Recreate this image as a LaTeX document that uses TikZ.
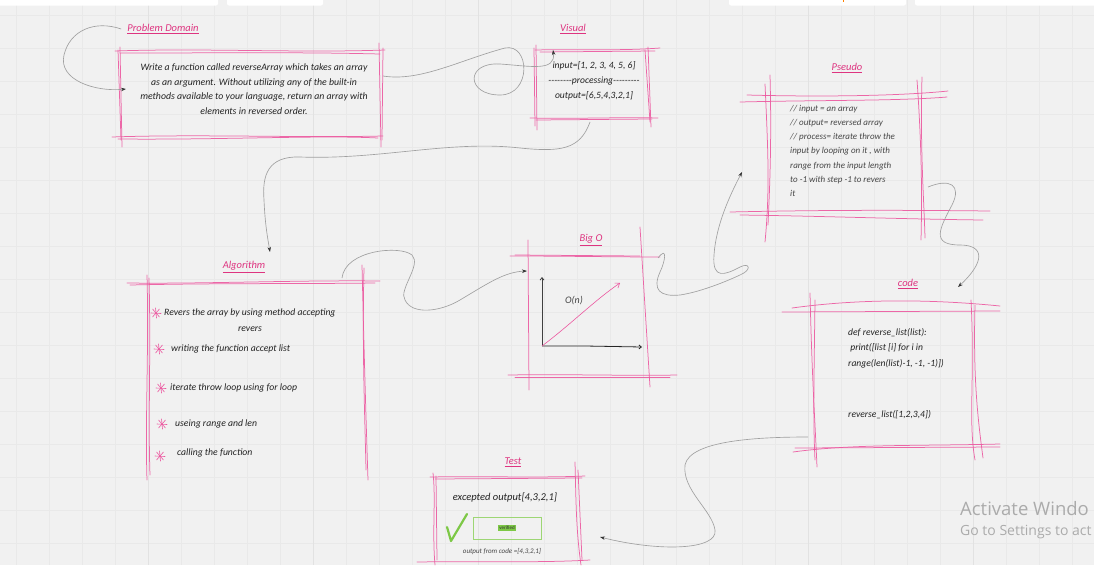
\documentclass[tikz,border=0pt]{standalone}
\usepackage{fontspec}
\setmainfont{Carlito}
\newfontfamily\uifont{Open Sans}
\usetikzlibrary{arrows.meta}
\definecolor{bgc}{RGB}{241,241,241}
\definecolor{gridc}{RGB}{233,233,233}
\definecolor{gridm}{RGB}{226,226,226}
\definecolor{pinkl}{RGB}{236,88,160}
\definecolor{pinkt}{RGB}{222,52,128}
\definecolor{txt}{RGB}{35,35,35}
\definecolor{txtg}{RGB}{70,70,70}
\definecolor{connc}{RGB}{160,160,160}
\definecolor{greenc}{RGB}{125,200,70}
\begin{document}
\begin{tikzpicture}[x=1pt,y=-1pt,
  sk/.style={draw=pinkl,line width=0.75pt,line cap=round,opacity=0.9},
  ttl/.style={text=pinkt,font=\itshape\fontsize{10.5}{11}\selectfont,inner sep=1pt},
  body/.style={text=txt,font=\itshape\fontsize{9.8}{14.5}\selectfont,align=center,inner sep=0pt},
  bodyl/.style={text=txt,font=\itshape\fontsize{9.7}{15}\selectfont,align=left,inner sep=0pt,anchor=north west},
  pseu/.style={text=txtg,font=\itshape\fontsize{9}{14.2}\selectfont,align=left,inner sep=0pt,anchor=north west},
  starl/.style={draw=pinkl,line width=0.6pt,line cap=round},
  conn/.style={draw=connc,line width=0.65pt,-{Stealth[length=5pt,width=3.5pt,color=black!80]}},
  ]
\fill[bgc] (0,0) rectangle (1094,565);
\useasboundingbox (0,0) rectangle (1094,565);
\begin{scope}
\clip (0,0) rectangle (1094,565);
% grid
\foreach \x in {16,49,...,1094} \draw[gridc,line width=0.4pt] (\x,0) -- (\x,565);
\foreach \y in {15,48,...,565} \draw[gridc,line width=0.4pt] (0,\y) -- (1094,\y);
\foreach \x in {148,313,478,643,808,973} \draw[gridm,line width=0.5pt] (\x,0) -- (\x,565);
% top toolbar tabs
\fill[white,rounded corners=2pt] (-5,-4) rectangle (218,5.5);
\fill[white,rounded corners=2pt] (227,-4) rectangle (323,5.5);
\fill[white,rounded corners=2pt] (729,-4) rectangle (906,5.5);
\fill[white,rounded corners=2pt] (915,-4) rectangle (1100,5.5);
\fill[orange] (842.5,0) rectangle (843.5,2);

% ---------------- Problem Domain
\node[ttl] (pdt) at (163,29) {\underline{Problem Domain}};
\node[body] (pd) at (254,89) {Write a function called reverseArray which takes an array\\
as an argument. Without utilizing any of the built-in\\
methods available to your language, return an array with\\
elements in reversed order.};
\draw[sk] (115,51) .. controls (200,48) and (300,53) .. (385,50);
\draw[sk] (120,53) .. controls (220,53) and (300,52) .. (380,54);
\draw[sk] (112,137) .. controls (200,134) and (300,138) .. (383,136);
\draw[sk] (118,139) .. controls (220,140) and (320,135) .. (378,138);
\draw[sk] (120,47) -- (122,147);
\draw[sk] (118,50) -- (121,140);
\draw[sk] (379,43) -- (381,147);
\draw[sk] (383,48) -- (382,140);

% ---------------- Visual
\node[ttl] (vit) at (573,29) {\underline{Visual}};
\node[body,font=\itshape\fontsize{9.6}{15}\selectfont] (vi) at (594,81) {input=[1, 2, 3, 4, 5, 6]\\
-{}-{}-{}-{}-{}-{}-{}-processing-{}-{}-{}-{}-{}-{}-{}-{}-\\
output=[6,5,4,3,2,1]};
\draw[sk] (535,50) .. controls (580,49) and (620,51) .. (660,48);
\draw[sk] (540,52) -- (655,51);
\draw[sk] (530,118) .. controls (580,119) and (620,117) .. (658,118);
\draw[sk] (536,120) -- (652,119);
\draw[sk] (536,45) -- (537,130);
\draw[sk] (534,48) -- (535,126);
\draw[sk] (648,47) -- (651,127);
\draw[sk] (645,50) -- (650,122);

% ---------------- Pseudo
\node[ttl] (pst) at (847,68) {\underline{Pseudo}};
\node[pseu] (ps) at (790,105) {// input = an array\\
// output= reversed array\\
// process= iterate throw the\\
input by looping on it , with\\
range from the input length\\
to -1 with step -1 to revers\\
it};
\draw[sk] (747,95) .. controls (820,97) and (900,96) .. (948,91);
\draw[sk] (740,102) .. controls (820,100) and (900,101) .. (947,97);
\draw[sk] (730,212) .. controls (820,210) and (900,210) .. (990,211);
\draw[sk] (740,215) .. controls (820,216) and (900,219) .. (983,220);
\draw[sk] (765,84) .. controls (768,150) and (770,190) .. (765,242);
\draw[sk] (770,75) .. controls (772,150) and (769,200) .. (768,225);
\draw[sk] (917,80) .. controls (922,150) and (922,200) .. (921,240);
\draw[sk] (922,77) .. controls (920,150) and (924,200) .. (925,238);

% ---------------- Algorithm
\node[ttl] (alt) at (244,267) {\underline{Algorithm}};
\draw[sk] (127,283) .. controls (200,284) and (300,280) .. (380,281);
\draw[sk] (130,285) .. controls (220,283) and (300,284) .. (375,283);
\draw[sk] (147,275) .. controls (149,350) and (145,420) .. (147,480);
\draw[sk] (149,278) .. controls (151,350) and (148,420) .. (150,475);
\draw[sk] (362,265) .. controls (364,350) and (366,420) .. (368,480);
\draw[sk] (364,268) .. controls (362,350) and (365,420) .. (366,470);
\foreach \n/\cx/\cy in {s1/156/313,s2/159/349,s3/161/388,s4/162/424,s5/160/456}{
  \coordinate (\n) at (\cx,\cy);
  \draw[starl] ([shift={(-5,0)}]\n) -- ([shift={(5,0.5)}]\n);
  \draw[starl] ([shift={(-0.5,-5)}]\n) -- ([shift={(0.5,5)}]\n);
  \draw[starl] ([shift={(-3.5,-4)}]\n) -- ([shift={(3.5,4)}]\n);
  \draw[starl] ([shift={(3.5,-4)}]\n) -- ([shift={(-3.5,4)}]\n);
}
\node[bodyl,anchor=west] (a1) at (164,313) {Revers the array by using method accepting};
\node[body,font=\itshape\fontsize{9.7}{15}\selectfont] (a1b) at (250,329) {revers};
\node[bodyl,anchor=west] (a2) at (171,349) {writing the function accept list};
\node[bodyl,anchor=west] (a3) at (170,388) {iterate throw loop using for loop};
\node[bodyl,anchor=west] (a4) at (175,424) {useing range and len};
\node[bodyl,anchor=west] (a5) at (177,453) {calling the function};

% ---------------- Big O
\node[ttl] (bot) at (591,240) {\underline{Big O}};
\draw[sk] (510,256) .. controls (560,256) and (620,257) .. (660,257);
\draw[sk] (515,255) -- (640,256);
\draw[sk] (508,375) .. controls (570,374) and (630,376) .. (677,375);
\draw[sk] (515,377) -- (670,377);
\draw[sk] (528,240) -- (529,390);
\draw[sk] (640,227) -- (650,387);
\coordinate (orig) at (542,346);
\draw[black!75,line width=0.8pt,-{Straight Barb[length=2.5pt,width=4pt]}] (orig) -- (542,277);
\draw[black!85,line width=0.8pt,-{Straight Barb[length=2.5pt,width=4pt]}] (orig) -- (585,346) -- (642,347);
\draw[pinkl,line width=0.6pt,-{Straight Barb[length=4pt,width=6pt]}] (orig) .. controls (570,325) and (595,300) .. (620,283);
\node[text=txtg,font=\itshape\fontsize{10}{10}\selectfont] (on) at (574,301) {O(n)};

% ---------------- code
\node[ttl] (cdt) at (908,284) {\underline{code}};
\node[bodyl,font=\itshape\fontsize{9.6}{15.5}\selectfont] (cd) at (848,328) {def reverse\_list(list):\\
\ print([list [i] for i in\\
range(len(list)-1, -1, -1)])};
\node[bodyl,anchor=west,font=\itshape\fontsize{9.6}{15}\selectfont] (cd2) at (848,415) {reverse\_list([1,2,3,4])};
\draw[sk] (792,308) .. controls (850,300) and (920,298) .. (1000,306);
\draw[sk] (782,312) -- (1000,311);
\draw[sk] (793,452) .. controls (850,444) and (920,446) .. (1000,444);
\draw[sk] (795,448) -- (1000,447);
\draw[sk] (810,293) .. controls (812,380) and (815,420) .. (817,467);
\draw[sk] (815,300) .. controls (814,380) and (813,420) .. (815,460);
\draw[sk] (971,300) .. controls (975,380) and (968,420) .. (975,460);
\draw[sk] (975,305) .. controls (973,380) and (978,420) .. (983,458);

% ---------------- Test
\node[ttl] (tst) at (513,462) {\underline{Test}};
\node[body,font=\itshape\fontsize{10.5}{11}\selectfont] (te) at (505,498) {excepted output[4,3,2,1]};
\draw[sk] (430,477) .. controls (480,476) and (540,478) .. (585,476);
\draw[sk] (435,479) -- (582,478);
\draw[sk] (417,562) .. controls (480,561) and (540,563) .. (590,560);
\draw[sk] (433,473) .. controls (436,500) and (432,530) .. (435,565);
\draw[sk] (436,476) -- (437,560);
\draw[sk] (575,462) .. controls (576,500) and (576,530) .. (581,565);
\draw[sk] (578,470) -- (582,560);
\draw[greenc,line width=2.2pt,line cap=round,line join=round] (447,527) -- (451,541) -- (467,514);
\node[draw=greenc!75!white,line width=0.8pt,minimum width=68pt,minimum height=22pt,inner sep=0pt] (vr) at (507,528) {};
\node[fill=greenc,text=black!80,font=\fontsize{5}{5}\selectfont,inner sep=1.2pt] (vrl) at (507,528) {verified};
\node[text=txtg,font=\itshape\fontsize{7}{8}\selectfont] (te2) at (502,552) {output from code =[4,3,2,1]};

% ---------------- connectors
\coordinate (pdin) at (126,89);
\coordinate (pdout) at (383,76);
\coordinate (viin) at (553,50);
\coordinate (viout) at (590,122);
\coordinate (alin) at (270,252);
\coordinate (alout) at (342,278);
\coordinate (boin) at (527,271);
\coordinate (boout) at (658,258);
\coordinate (psin) at (742,172);
\coordinate (psout) at (928,187);
\coordinate (cdin) at (958,287);
\coordinate (cdout) at (808,437);
\coordinate (tein) at (600,537);

\draw[conn] ([xshift=-5pt]pdt.west) .. controls (95,20) and (70,30) .. (64,55)
  .. controls (58,80) and (95,92) .. (pdin);
\draw[conn] (pdout) .. controls (420,82) and (460,60) .. (505,48)
  .. controls (530,43) and (532,95) .. (500,95)
  .. controls (466,95) and (465,62) .. (500,64)
  .. controls (530,66) and (556,72) .. (viin);
\draw[conn] (viout) .. controls (580,150) and (560,152) .. (520,148)
  .. controls (450,140) and (380,160) .. (300,157)
  .. controls (268,156) and (262,175) .. (264,200)
  .. controls (265,225) and (268,240) .. (alin);
\draw[conn] (alout) .. controls (345,250) and (400,245) .. (412,255)
  .. controls (422,265) and (398,290) .. (405,300)
  .. controls (412,315) and (440,312) .. (460,300)
  .. controls (490,282) and (505,272) .. (boin);
\draw[conn] (boout) .. controls (668,245) and (665,262) .. (660,272)
  .. controls (652,290) and (660,297) .. (680,295)
  .. controls (700,292) and (725,282) .. (740,275)
  .. controls (752,270) and (750,262) .. (740,267)
  .. controls (725,275) and (712,280) .. (714,255)
  .. controls (716,225) and (730,195) .. (psin);
\draw[conn] (psout) .. controls (950,178) and (962,185) .. (952,205)
  .. controls (940,228) and (930,245) .. (960,245)
  .. controls (985,245) and (985,262) .. (cdin);
\draw[conn] (cdout) .. controls (760,437) and (690,440) .. (685,465)
  .. controls (682,490) and (712,510) .. (715,530)
  .. controls (718,550) and (660,552) .. (tein);

% watermark
\node[anchor=west,text=black!33,font=\uifont\fontsize{18.5}{19}\selectfont,inner sep=0pt] (wm1) at (960,509) {Activate Windo};
\node[anchor=west,text=black!33,font=\uifont\fontsize{14}{15}\selectfont,inner sep=0pt] (wm2) at (960,532) {Go to Settings to act};
\end{scope}
\end{tikzpicture}
\end{document}
